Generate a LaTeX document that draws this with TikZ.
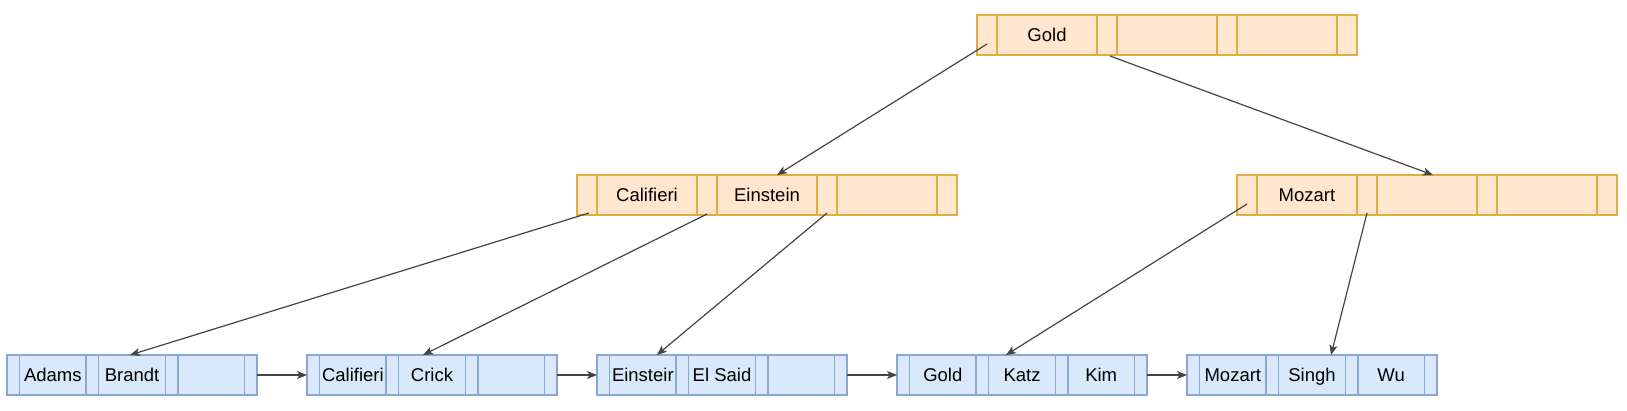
\documentclass[tikz,border=0pt]{standalone}
\usepackage{fontspec}
\setmainfont{Liberation Sans}
\usetikzlibrary{arrows.meta,calc}
\definecolor{ofill}{HTML}{FFE6CC}
\definecolor{odraw}{HTML}{E2AC3F}
\definecolor{bfill}{HTML}{DAE8FC}
\definecolor{bdraw}{HTML}{8AA6D2}
\definecolor{edgec}{HTML}{444444}
\tikzset{
  cellbase/.style={inner sep=0pt, outer sep=0pt, minimum height=40pt, line width=1.4pt,
    text height=13.25pt, text depth=0pt,
    font=\fontsize{18.5}{22}\selectfont},
  ocell/.style={cellbase, draw=odraw, fill=ofill},
  bcell/.style={cellbase, draw=bdraw, fill=bfill},
  edge/.style={draw=edgec, line width=1.2pt, -{Stealth[length=10pt,width=8pt,inset=2.5pt]}}
}
% name, x, y(top), pointer width, key width, style, k1, k2, k3
\newcommand\btnode[9]{%
  \node[#6, minimum width=#4pt, anchor=north west] (#1-p1) at (#2,#3) {};
  \node[#6, minimum width=#5pt, anchor=west] (#1-k1) at (#1-p1.east) {#7};
  \node[#6, minimum width=#4pt, anchor=west] (#1-p2) at (#1-k1.east) {};
  \node[#6, minimum width=#5pt, anchor=west] (#1-k2) at (#1-p2.east) {#8};
  \node[#6, minimum width=#4pt, anchor=west] (#1-p3) at (#1-k2.east) {};
  \node[#6, minimum width=#5pt, anchor=west] (#1-k3) at (#1-p3.east) {#9};
  \node[#6, minimum width=#4pt, anchor=west] (#1-p4) at (#1-k3.east) {};
}
\begin{document}
\begin{tikzpicture}[x=1pt,y=-1pt]
\useasboundingbox (0,0) rectangle (1627,410);
% internal nodes
\btnode{T}{977}{15}{20}{100}{ocell}{Gold}{}{}
\btnode{A}{577}{175}{20}{100}{ocell}{Califieri}{Einstein}{}
\btnode{B}{1237}{175}{20}{100}{ocell}{Mozart}{}{}
% leaves
\btnode{l1}{7}{355}{12.5}{66.67}{bcell}{Adams}{Brandt}{}
\btnode{l2}{307}{355}{12.5}{66.67}{bcell}{Califieri}{Crick}{}
\btnode{l3}{597}{355}{12.5}{66.67}{bcell}{Einsteir}{El Said}{}
\btnode{l4}{897}{355}{12.5}{66.67}{bcell}{Gold}{Katz}{Kim}
\btnode{l5}{1187}{355}{12.5}{66.67}{bcell}{Mozart}{Singh}{Wu}
% edge start points
\coordinate (s1) at ($(T-p1.center)+(0,9)$);
\coordinate (s2) at ($(T-p2.south)+(3,1)$);
\coordinate (s3) at ($(A-p1.south)+(2,-2)$);
\coordinate (s4) at ($(A-p2.south)+(0,-1)$);
\coordinate (s5) at ($(A-p3.south)+(0,-2)$);
\coordinate (s6) at ($(B-p1.center)+(0,9)$);
\coordinate (s7) at ($(B-p2.south)+(0,-2)$);
% tree edges
\draw[edge] (s1) -- ($(A-k2.north)+(10,0)$);
\draw[edge] (s2) -- ($(B-k2.north)+(6,0)$);
\draw[edge] (s3) -- ($(l1-k2.north)+(-2,0)$);
\draw[edge] (s4) -- ($(l2-k2.north)+(-9,0)$);
\draw[edge] (s5) -- ($(l3-k1.north)+(14,0)$);
\draw[edge] (s6) -- ($(l4-k2.north)+(-16,0)$);
\draw[edge] (s7) -- ($(l5-k2.north)+(19,0)$);
% leaf links
\draw[edge] (l1-p4.east) -- (l2-p1.west);
\draw[edge] (l2-p4.east) -- (l3-p1.west);
\draw[edge] (l3-p4.east) -- (l4-p1.west);
\draw[edge] (l4-p4.east) -- (l5-p1.west);
\end{tikzpicture}
\end{document}
